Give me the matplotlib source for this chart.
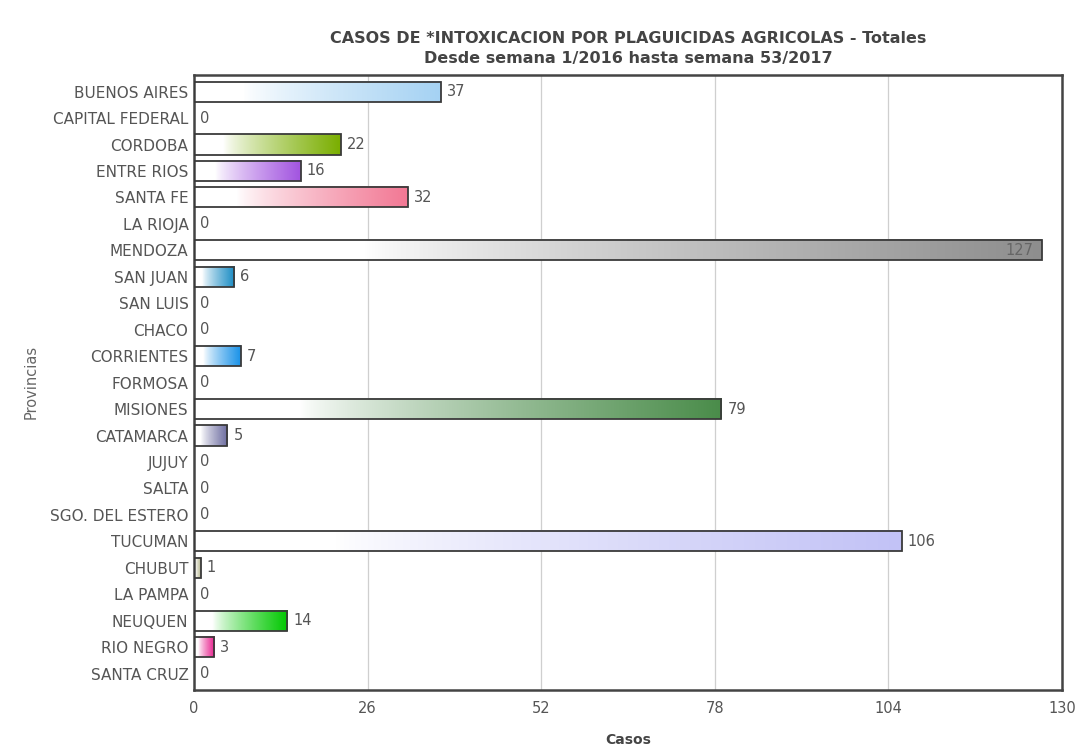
import numpy as np
import matplotlib.pyplot as plt
from matplotlib.colors import to_rgb

# Data
provincias = ["BUENOS AIRES", "CAPITAL FEDERAL", "CORDOBA", "ENTRE RIOS", "SANTA FE",
              "LA RIOJA", "MENDOZA", "SAN JUAN", "SAN LUIS", "CHACO", "CORRIENTES",
              "FORMOSA", "MISIONES", "CATAMARCA", "JUJUY", "SALTA", "SGO. DEL ESTERO",
              "TUCUMAN", "CHUBUT", "LA PAMPA", "NEUQUEN", "RIO NEGRO", "SANTA CRUZ"]
casos = [37, 0, 22, 16, 32, 0, 127, 6, 0, 0, 7, 0, 79, 5, 0, 0, 0, 106, 1, 0, 14, 3, 0]
colores = ["#a5d2f3", "#ffffff", "#7aae00", "#a254e0", "#f27894", "#ffffff", "#8e8e8e",
           "#1a8cc4", "#ffffff", "#ffffff", "#1a92e8", "#ffffff", "#4a8c4a", "#6c6ca0",
           "#ffffff", "#ffffff", "#ffffff", "#c2c2f6", "#b8b890", "#ffffff", "#00c800",
           "#e8208e", "#ffffff"]
xticks = [0, 26, 52, 78, 104, 130]

fig = plt.figure(figsize=(10.78, 7.47), dpi=100)
ax = fig.add_axes([0.180, 0.0763, 0.805, 0.8237])

h = 0.76
grad = np.linspace(0, 1, 256)
for i, (v, c) in enumerate(zip(casos, colores)):
    if v > 0:
        rgb = np.array(to_rgb(c))
        t = np.clip((grad - 0.2) / 0.8, 0, 1) ** 0.8
        img = (1 - t)[:, None] * np.ones(3) + t[:, None] * rgb
        ax.imshow(img[None, :, :], extent=[0, v, i + h / 2, i - h / 2],
                  aspect="auto", zorder=2, interpolation="bilinear")
        ax.add_patch(plt.Rectangle((0, i - h / 2), v, h, fill=False,
                                   edgecolor="#3a3a3a", linewidth=1.3, zorder=3))
    if v == 127:
        ax.text(v - 1.2, i, str(v), ha="right", va="center", fontsize=10.5,
                color="#666666", zorder=4)
    else:
        ax.text(v + 0.9, i, str(v), ha="left", va="center", fontsize=10.5,
                color="#555555", zorder=4)

ax.set_xlim(0, 130)
ax.set_ylim(22.62, -0.64)
ax.set_xticks(xticks)
ax.set_xticklabels([str(x) for x in xticks], fontsize=10.5, color="#555555")
ax.set_yticks(range(len(provincias)))
ax.set_yticklabels(provincias, fontsize=11, color="#555555")
ax.tick_params(length=0, pad=4)
ax.tick_params(axis="x", pad=8)
ax.xaxis.grid(True, color="#cfcfcf", linewidth=0.9)
ax.set_axisbelow(True)
for s in ax.spines.values():
    s.set_color("#444444")
    s.set_linewidth(1.8)

ax.set_xlabel("Casos", fontsize=10, fontweight="bold", color="#444444", labelpad=12)
ax.set_ylabel("Provincias", fontsize=10.5, color="#666666", labelpad=8)
fig.text(0.583, 0.949, "CASOS DE *INTOXICACION POR PLAGUICIDAS AGRICOLAS - Totales",
         ha="center", va="center", fontsize=11.5, fontweight="bold", color="#444444")
fig.text(0.583, 0.922, "Desde semana 1/2016 hasta semana 53/2017",
         ha="center", va="center", fontsize=11.5, fontweight="bold", color="#444444")

fig.savefig("out.png", dpi=100)
